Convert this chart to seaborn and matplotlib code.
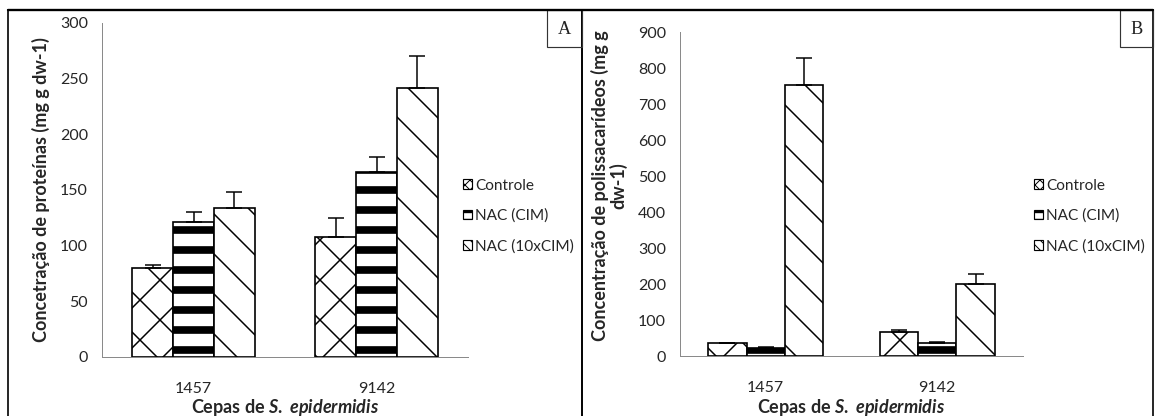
import pandas as pd
import numpy as np
import matplotlib.pyplot as plt
import matplotlib.patches as mpatches
import seaborn as sns

# ---------- data ----------
cepas = ['1457', '9142']
tratamentos = ['Controle', 'NAC (CIM)', 'NAC (10xCIM)']

# painel A - proteinas
prot_controle = [80, 108]
prot_cim = [121, 166]
prot_10x = [134, 242]
prot_err_controle = [3, 17]
prot_err_cim = [9, 14]
prot_err_10x = [14, 28]

# painel B - polissacarideos
poli_controle = [37, 68]
poli_cim = [21, 35]
poli_10x = [752, 201]
poli_err_controle = [0, 4]
poli_err_cim = [3, 3]
poli_err_10x = [75, 27]

DPI = 240          # hatch spacing scales with dpi, 240 gives the wide Excel hatches
W, H = 1155, 416

sns.set_style('white')
plt.rcParams['font.family'] = ['Lato', 'DejaVu Sans']
plt.rcParams['mathtext.fontset'] = 'custom'
plt.rcParams['mathtext.it'] = 'Lato:italic:bold'
plt.rcParams['mathtext.rm'] = 'Lato:bold'
plt.rcParams['hatch.linewidth'] = 0.45
plt.rcParams['hatch.color'] = 'black'

# diagonal hatches need two chars for ~40px spacing at this dpi
hatches = ['xx', '--', '\\\\']
hatch_lw = [0.45, 2.3, 0.45]
legend_hatches = ['x' * 8, '-----', '\\' * 8]
legend_hatch_lw = [0.3, 0.7, 0.3]
axis_gray = '#8a8a8a'
tick_color = '#262626'
TICK_FS = 4.8
LABEL_FS = 5.4


def set_hatch_lw(patch, lw):
    if hasattr(patch, 'set_hatch_linewidth'):
        patch.set_hatch_linewidth(lw)
    else:
        orig = patch.draw

        def draw(renderer, _orig=orig):
            with plt.rc_context({'hatch.linewidth': lw}):
                _orig(renderer)
        patch.draw = draw


def px_box(x0, y0, x1, y1):
    # pixel box (top-left origin) -> figure fraction rect
    return [x0 / W, 1 - y1 / H, (x1 - x0) / W, (y1 - y0) / H]


def panel(ax, values, errs, ymax, ystep, ylabel, leg_x):
    df = pd.DataFrame({
        'cepa': cepas * 3,
        'tratamento': np.repeat(tratamentos, len(cepas)),
        'valor': np.concatenate(values),
    })
    sns.barplot(data=df, x='cepa', y='valor', hue='tratamento',
                order=cepas, hue_order=tratamentos,
                palette={t: 'white' for t in tratamentos},
                width=0.67, gap=0, errorbar=None, legend=False,
                edgecolor='black', linewidth=0.5, saturation=1, ax=ax)

    bar_conts = list(ax.containers)
    for i, cont in enumerate(bar_conts):
        xs = [p.get_x() + p.get_width() / 2 for p in cont.patches]
        ys = [p.get_height() for p in cont.patches]
        for p in cont.patches:
            p.set_hatch(hatches[i])
            set_hatch_lw(p, hatch_lw[i])
        ax.errorbar(xs, ys, yerr=[np.zeros(len(errs[i])), errs[i]], fmt='none',
                    ecolor='black', elinewidth=0.45, capsize=2.4, capthick=0.45,
                    zorder=3)

    ax.set_xlim(-0.5, 1.5)
    ax.set_ylim(0, ymax)
    ax.set_yticks(np.arange(0, ymax + 1, ystep))
    ax.set_xticks([0, 1])
    ax.set_xticklabels(cepas)
    ax.set_xticks([-0.5, 0.5, 1.5], minor=True)
    ax.tick_params(axis='x', which='major', length=0, pad=7.6,
                   labelsize=TICK_FS, labelcolor=tick_color)
    ax.tick_params(axis='x', which='minor', length=1.5, width=0.3,
                   color=axis_gray, direction='out')
    ax.tick_params(axis='y', length=1.4, width=0.3, color=axis_gray,
                   direction='out', pad=2.8, labelsize=TICK_FS, labelcolor=tick_color)
    sns.despine(ax=ax)
    for s in ['left', 'bottom']:
        ax.spines[s].set_color(axis_gray)
        ax.spines[s].set_linewidth(0.3)

    ax.set_xlabel('Cepas de $\\mathit{S.\\ epidermidis}$', fontsize=LABEL_FS,
                  fontweight='bold', color=tick_color, va='baseline')
    ax.set_ylabel(ylabel, fontsize=LABEL_FS, fontweight='bold', color=tick_color,
                  multialignment='center', linespacing=1.0)

    handles = [mpatches.Patch(facecolor='white', edgecolor='black', linewidth=0.35,
                              hatch=legend_hatches[i]) for i in range(3)]
    leg = ax.legend(handles, tratamentos, loc='center left',
                    bbox_to_anchor=(leg_x / W, 1 - 216 / H),
                    bbox_transform=ax.figure.transFigure, frameon=False,
                    fontsize=4.6, handlelength=0.6, handleheight=0.6,
                    handletextpad=0.2, labelspacing=1.05, borderpad=0,
                    borderaxespad=0)
    for t in leg.get_texts():
        t.set_color(tick_color)
    for i, p in enumerate(leg.get_patches()):
        set_hatch_lw(p, legend_hatch_lw[i])
    return ax


fig = plt.figure(figsize=(W / DPI, H / DPI), dpi=DPI)
fig.patch.set_facecolor('white')

axA = fig.add_axes(px_box(102, 23, 468, 357))
panel(axA, [prot_controle, prot_cim, prot_10x],
      [prot_err_controle, prot_err_cim, prot_err_10x],
      300, 50, 'Concetração de proteínas (mg g dw-1)', 463)
axA.yaxis.set_label_coords(-0.143, 0.5)
axA.xaxis.set_label_coords(0.5, (357 - 413) / 334)

axB = fig.add_axes(px_box(680, 32, 1023, 356))
panel(axB, [poli_controle, poli_cim, poli_10x],
      [poli_err_controle, poli_err_cim, poli_err_10x],
      900, 100, 'Concentração de polissacarídeos (mg g\ndw-1)', 1034)
axB.yaxis.set_label_coords(-0.154, 0.525)
axB.xaxis.set_label_coords(0.5, (356 - 413) / 324)

# panel frames and letter boxes, as in the original figure
for (x0, y0, x1, y1), lw in [((8, 10, 582, 420), 0.5), ((582, 10, 1153, 420), 0.5)]:
    fig.add_artist(mpatches.Rectangle((x0 / W, 1 - y1 / H), (x1 - x0) / W, (y1 - y0) / H,
                                      transform=fig.transFigure, fill=False,
                                      edgecolor='black', linewidth=lw))
fig.add_artist(plt.Line2D([8 / W, 1153 / W], [1 - 10 / H] * 2,
                          transform=fig.transFigure, color='black', linewidth=0.7))

for (x0, x1), letter in [((547, 582), 'A'), ((1120, 1153), 'B')]:
    fig.add_artist(mpatches.Rectangle((x0 / W, 1 - 47 / H), (x1 - x0) / W, 37 / H,
                                      transform=fig.transFigure, fill=False,
                                      edgecolor='#333333', linewidth=0.35))
    fig.text((x0 + x1) / 2 / W, 1 - 29 / H, letter, family='Liberation Serif',
             fontsize=5.5, ha='center', va='center', color='#222222')

fig.savefig('out.png', dpi=DPI, facecolor='white')
